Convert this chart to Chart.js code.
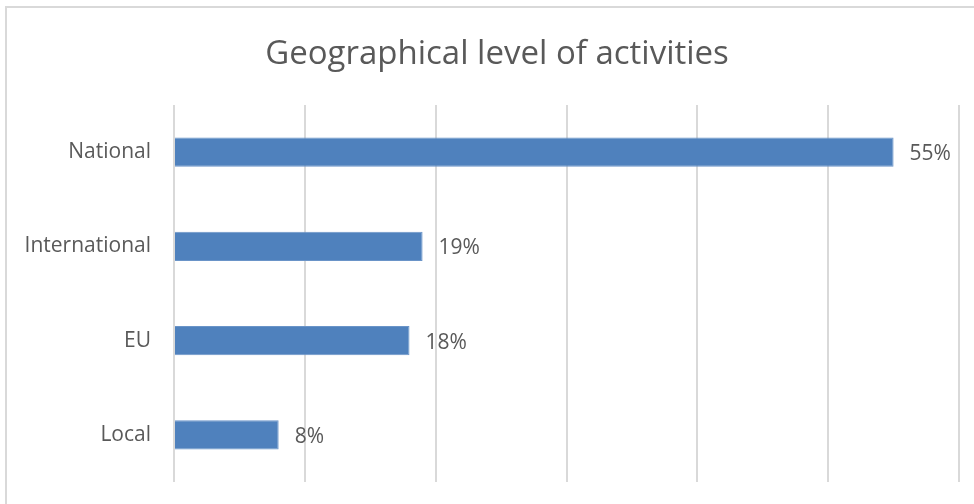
<!DOCTYPE html>
<html>
<head>
<meta charset="utf-8">
<script src="https://cdn.jsdelivr.net/npm/chart.js@4"></script>
<style>
  body { margin: 0; background: #fff; overflow: hidden; }
  #frame { position: absolute; left: 5px; top: 6px; width: 990px; height: 520px; border: 2px solid #d9d9d9; }
  #wrap { position: absolute; left: 0; top: 0; width: 974px; height: 504px; }
</style>
</head>
<body>
<div id="frame"></div>
<div id="wrap"><canvas id="myChart" width="974" height="504"></canvas></div>
<script>
const chartTitle = 'Geographical level of activities';
const categories = ['National', 'International', 'EU', 'Local'];
const shares = [55, 19, 18, 8];
const axisMax = 60;
const axisStep = 10;

const textGrey = '#595959';
const fontName = '"Open Sans", sans-serif';

// title drawn a bit right of centre, as in the original frame
const chartHeading = {
  id: 'chartHeading',
  afterDraw(chart){
    const ctx = chart.ctx;
    ctx.save();
    ctx.font = '33px ' + fontName;
    ctx.fillStyle = textGrey;
    ctx.textAlign = 'center';
    ctx.textBaseline = 'middle';
    ctx.fillText(chartTitle, 497, 55);
    ctx.restore();
  }
};

// value labels at the end of each bar
const barLabels = {
  id: 'barLabels',
  afterDatasetsDraw(chart){
    const ctx = chart.ctx;
    const meta = chart.getDatasetMeta(0);
    ctx.save();
    ctx.font = '21px ' + fontName;
    ctx.fillStyle = textGrey;
    ctx.textAlign = 'left';
    ctx.textBaseline = 'middle';
    meta.data.forEach((bar, i) => {
      ctx.fillText(shares[i] + '%', bar.x + 16, bar.y + 2);
    });
    ctx.restore();
  }
};

function drawChart(){
  const ctx = document.getElementById('myChart');
  new Chart(ctx, {
    type: 'bar',
    data: {
      labels: categories,
      datasets: [{
        data: shares,
        backgroundColor: '#4f81bd',
        borderColor: '#6a94c8',
        borderWidth: 1,
        barPercentage: 0.31,
        categoryPercentage: 1
      }]
    },
    options: {
      indexAxis: 'y',
      responsive: false,
      animation: false,
      layout: { padding: { left: 0, right: 15, top: 105, bottom: 22 } },
      plugins: {
        legend: { display: false },
        tooltip: { enabled: false },
        title: { display: false }
      },
      scales: {
        x: {
          min: 0,
          max: axisMax,
          ticks: { display: false, stepSize: axisStep },
          grid: { color: '#d9d9d9', lineWidth: 2, drawTicks: false },
          border: { display: false }
        },
        y: {
          grid: { display: false, drawTicks: false },
          border: { display: false },
          ticks: { color: textGrey, font: { family: fontName, size: 21 }, padding: 23 },
          afterFit(scale){
            scale.width = 174;
            scale.paddingTop = 0;
            scale.paddingBottom = 0;
          }
        }
      }
    },
    plugins: [barLabels, chartHeading]
  });
}

drawChart();
</script>
</body>
</html>
